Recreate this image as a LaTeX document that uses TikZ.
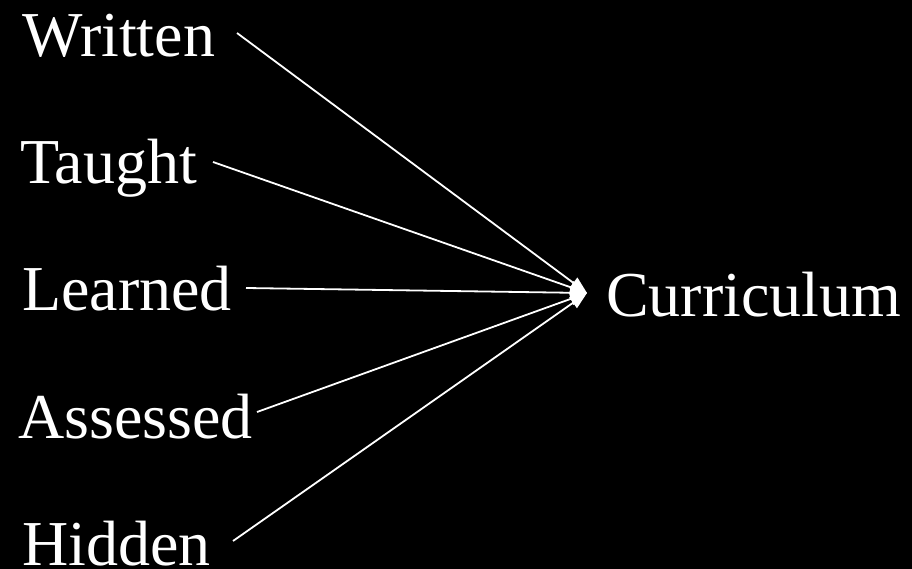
\documentclass[tikz,border=0pt]{standalone}
\usepackage{fontspec}
\setmainfont{Liberation Serif}
\usepackage{xcolor}
\usepackage{tikz}
\usetikzlibrary{arrows.meta,positioning}
\definecolor{CurBack}{HTML}{000000}
\definecolor{CurInk}{HTML}{FFFFFF}

\tikzset{
  kind/.style={anchor=base west,inner sep=0pt,text=CurInk,
               font=\fontsize{64}{70}\selectfont},
  feed/.style={draw=CurInk,line width=1.8pt,
               -{Triangle[length=17pt,width=13pt]}}
}

\begin{document}
\begin{tikzpicture}[x=1pt,y=-1pt]
        \fill[CurBack] (0,0) rectangle (912,569);
        \useasboundingbox (0,0) rectangle (912,569);
        % the five kinds
        \node[kind] (written)  at (22,57)  {Written};
        \node[kind] (taught)   at (20,184) {Taught};
        \node[kind] (learned)  at (22,310) {Learned};
        \node[kind] (assessed) at (18,438) {Assessed};
        \node[kind] (hidden)   at (22,565) {Hidden};
        \node[kind] (curriculum) at (606,316) {Curriculum};
        % line ends
        \coordinate (hub) at (587,293);
        \coordinate (written-out)  at (237,33);
        \coordinate (taught-out)   at (213,162);
        \coordinate (learned-out)  at (246,288);
        \coordinate (assessed-out) at (257,412);
        \coordinate (hidden-out)   at (233,541);
        \foreach \k in {written,taught,learned,assessed,hidden}
          \draw[feed] (\k-out) -- (hub);
      \end{tikzpicture}
\end{document}
